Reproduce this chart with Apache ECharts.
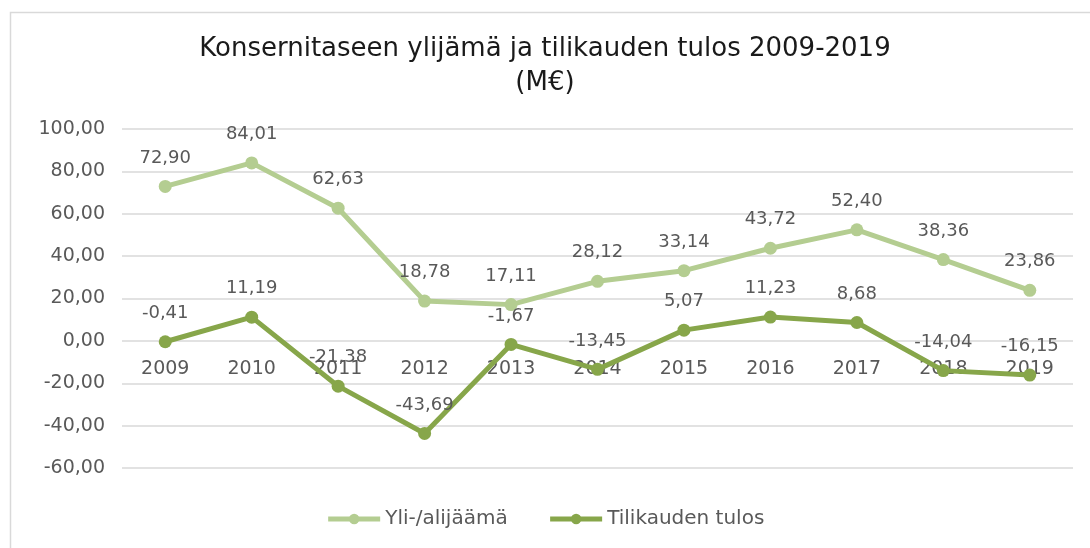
<!DOCTYPE html>
<html>
<head>
<meta charset="utf-8">
<script src="https://cdn.jsdelivr.net/npm/echarts@6/dist/echarts.min.js"></script>
<style>
html,body{margin:0;padding:0;background:#fff;}
#c{width:1090px;height:548px;}
</style>
</head>
<body>
<div id="c"></div>
<script>
const categories = ['2009','2010','2011','2012','2013','2014','2015','2016','2017','2018','2019'];
const surplus = [72.90, 84.01, 62.63, 18.78, 17.11, 28.12, 33.14, 43.72, 52.40, 38.36, 23.86];
const result = [-0.41, 11.19, -21.38, -43.69, -1.67, -13.45, 5.07, 11.23, 8.68, -14.04, -16.15];
const seriesNames = ['Yli-/alijäämä', 'Tilikauden tulos'];
const titleText = 'Konsernitaseen ylijämä ja tilikauden tulos 2009-2019\n(M€)';

const fmt = v => v.toFixed(2).replace('.', ',');
const font = 'DejaVu Sans';
const chart = echarts.init(document.getElementById('c'), null, {renderer: 'canvas'});
chart.setOption({
  animation: false,
  backgroundColor: '#fff',
  graphic: [{
    type: 'rect', left: 8, top: 10, silent: true,
    shape: {width: 1100, height: 560},
    style: {fill: 'none', stroke: '#d9d9d9', lineWidth: 1.5}
  }],
  title: {
    text: titleText,
    left: 'center', top: 27,
    textStyle: {fontFamily: font, fontSize: 26, fontWeight: 'normal', color: '#1a1a1a', lineHeight: 34, align: 'center'}
  },
  legend: {
    bottom: 14, left: 'center',
    itemWidth: 52, itemHeight: 13, itemGap: 40,
    lineStyle: {width: 5},
    textStyle: {fontFamily: font, fontSize: 20, color: '#595959'},
    data: seriesNames
  },
  grid: {left: 122, right: 17, top: 129, bottom: 80},
  xAxis: {
    type: 'category', data: categories, boundaryGap: true,
    position: 'bottom', offset: -127,
    axisLine: {show: false, onZero: false},
    axisTick: {show: false},
    axisLabel: {fontFamily: font, fontSize: 19, color: '#595959', margin: 19}
  },
  yAxis: {
    type: 'value', min: -60, max: 100, interval: 20,
    axisLine: {show: false}, axisTick: {show: false},
    axisLabel: {fontFamily: font, fontSize: 19, color: '#595959', margin: 17, formatter: v => fmt(v)},
    splitLine: {lineStyle: {color: '#d9d9d9', width: 1.5}}
  },
  series: [
    {
      name: seriesNames[0], type: 'line', data: surplus,
      symbol: 'circle', symbolSize: 13,
      lineStyle: {color: '#b4cd91', width: 5},
      itemStyle: {color: '#b4cd91'},
      label: {show: true, position: 'top', distance: 13, fontFamily: font, fontSize: 18, color: '#595959', formatter: p => fmt(p.value)}
    },
    {
      name: seriesNames[1], type: 'line', data: result,
      symbol: 'circle', symbolSize: 13,
      lineStyle: {color: '#87a64a', width: 5},
      itemStyle: {color: '#87a64a'},
      label: {show: true, position: 'top', distance: 13, fontFamily: font, fontSize: 18, color: '#595959', formatter: p => fmt(p.value)}
    }
  ]
});
</script>
</body>
</html>
